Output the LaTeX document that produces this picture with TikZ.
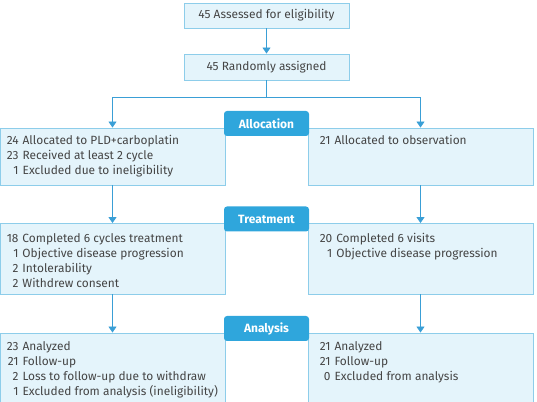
\documentclass[tikz,border=0pt]{standalone}
\usepackage{fontspec}
\setmainfont{Fira Sans}
\usetikzlibrary{arrows.meta}
\definecolor{boxfill}{HTML}{E4F4FB}
\definecolor{boxline}{HTML}{8DCDEA}
\definecolor{flow}{HTML}{3A9FD6}
\definecolor{tab}{HTML}{2FA6DC}
\definecolor{ink}{HTML}{454545}
\tikzset{
  sc/.style={x=1pt,y=1pt,font=\fontsize{11.9}{15}\selectfont,text=ink},
  stage/.style={draw=boxline,fill=boxfill,line width=.9pt,inner sep=0pt},
  phase/.style={fill=tab,rounded corners=3pt,minimum width=85pt,minimum height=25pt,
    text=white,font=\fontsize{12}{12}\selectfont\bfseries},
  flowline/.style={draw=flow,line width=.9pt},
  flowarrow/.style={flowline,-{Triangle[width=8pt,length=6pt]}},
  lines/.style={anchor=north west,inner sep=0pt}
}
\newcommand{\counts}[1]{\begin{tabular}{@{}r@{\hspace{4pt}}l@{}}#1\end{tabular}}

\begin{document}
\begin{tikzpicture}[sc]
  \useasboundingbox (0,0) rectangle (537,401);
  % top
  \node[stage,minimum width=165pt,minimum height=25pt] (elig) at (266.5,385.5){45 Assessed for eligibility};
  \node[stage,minimum width=165pt,minimum height=26pt] (rand) at (266.5,334){45 Randomly assigned};
  % three rows of boxes
  \node[stage,minimum width=225pt,minimum height=57pt] (allocL) at (112.5,244.5){};
  \node[stage,minimum width=225pt,minimum height=57pt] (allocR) at (420.5,244.5){};
  \node[stage,minimum width=225pt,minimum height=70.5pt] (treatL) at (112.5,142.25){};
  \node[stage,minimum width=225pt,minimum height=70.5pt] (treatR) at (420.5,142.25){};
  \node[stage,minimum width=225pt,minimum height=72pt] (anaL) at (112.5,32){};
  \node[stage,minimum width=225pt,minimum height=72pt] (anaR) at (420.5,32){};
  % phase tabs
  \node[phase] (tabA) at (266.5,277.5){Allocation};
  \node[phase] (tabT) at (266.5,182){Treatment};
  \node[phase] (tabN) at (266.5,72.5){Analysis};
  % texts
  \node[lines] at ([xshift=7pt,yshift=-6.5pt]allocL.north west){\counts{24&Allocated to PLD+carboplatin\\23&Received at least 2 cycle\\1&Excluded due to ineligibility}};
  \node[lines] at ([xshift=12pt,yshift=-6.5pt]allocR.north west){\counts{21&Allocated to observation}};
  \node[lines] at ([xshift=7pt,yshift=-8.5pt]treatL.north west){\counts{18&Completed 6 cycles treatment\\1&Objective disease progression\\2&Intolerability\\2&Withdrew consent}};
  \node[lines] at ([xshift=12pt,yshift=-8.5pt]treatR.north west){\counts{20&Completed 6 visits\\1&Objective disease progression}};
  \node[lines] at ([xshift=7pt,yshift=-7.5pt]anaL.north west){\counts{23&Analyzed\\21&Follow-up\\2&Loss to follow-up due to withdraw\\1&Excluded from analysis (ineligibility)}};
  \node[lines] at ([xshift=12pt,yshift=-7.5pt]anaR.north west){\counts{21&Analyzed\\21&Follow-up\\0&Excluded from analysis}};
  % connectors
  \coordinate (split) at (266.5,304);
  \draw[flowarrow] (elig) -- (rand);
  \draw[flowline] (rand) -- (split);
  \draw[flowarrow] (split) -| (allocL.north);
  \draw[flowarrow] (split) -| (allocR.north);
  \draw[flowarrow] (allocL) -- (treatL);
  \draw[flowarrow] (allocR) -- (treatR);
  \draw[flowarrow] (treatL) -- (anaL);
  \draw[flowarrow] (treatR) -- (anaR);
\end{tikzpicture}
\end{document}
